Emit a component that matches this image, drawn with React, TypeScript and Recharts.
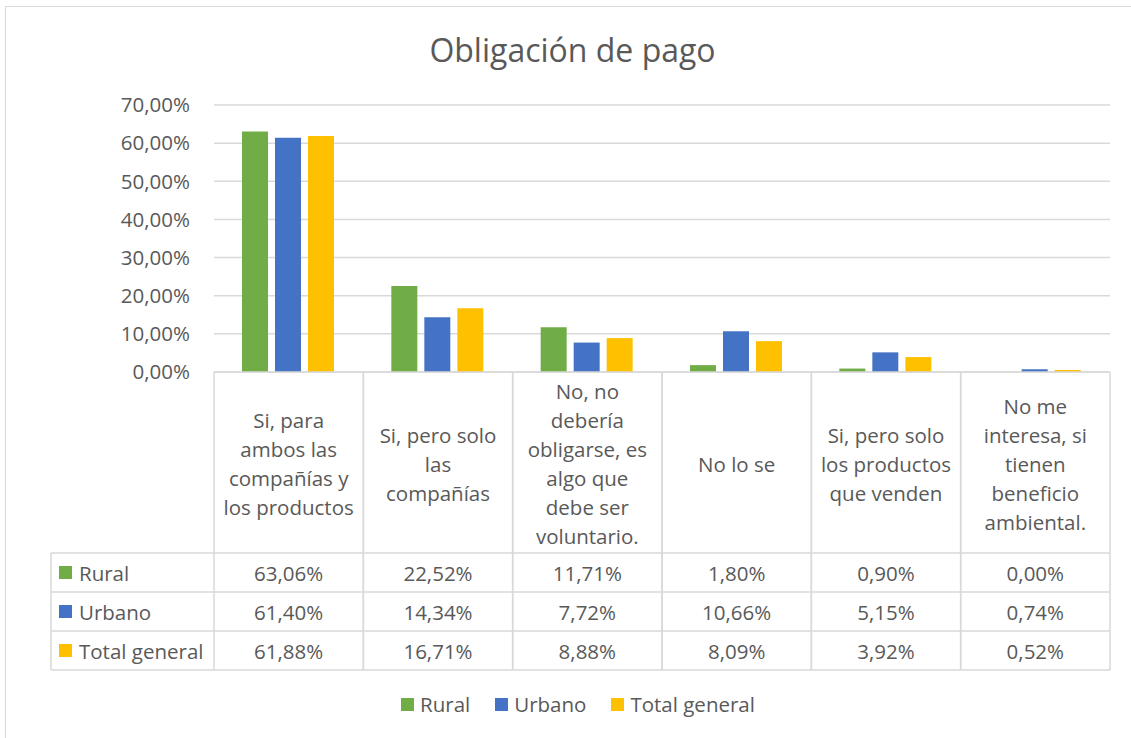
import React from 'react';
import { BarChart, Bar, XAxis, YAxis, CartesianGrid, Legend } from 'recharts';

const categories = [
  'Si, para\nambos las\ncompañías y\nlos productos',
  'Si, pero solo\nlas\ncompañías',
  'No, no\ndebería\nobligarse, es\nalgo que\ndebe ser\nvoluntario.',
  'No lo se',
  'Si, pero solo\nlos productos\nque venden',
  'No me\ninteresa, si\ntienen\nbeneficio\nambiental.',
];
const rural = [63.06, 22.52, 11.71, 1.8, 0.9, 0.0];
const urbano = [61.4, 14.34, 7.72, 10.66, 5.15, 0.74];
const totalGeneral = [61.88, 16.71, 8.88, 8.09, 3.92, 0.52];
const yTicks = [0, 10, 20, 30, 40, 50, 60, 70];
const seriesKeys = ['rural', 'urbano', 'total'];
const seriesNames = ['Rural', 'Urbano', 'Total general'];
const seriesColors = ['#70AD47', '#4472C4', '#FFC000'];
const seriesValues = [rural, urbano, totalGeneral];

const data = categories.map((c, i) => ({
  category: c,
  rural: rural[i],
  urbano: urbano[i],
  total: totalGeneral[i],
}));

const FONT = '"Open Sans", "Noto Sans", sans-serif';
const TEXT = '#595959';
const LINE = '#d9d9d9';
const FS = 20.5;

const W = 1131;
const H = 738;
const HEADER_H = 181;
const ROW_H = 39;
const AXIS_H = HEADER_H + 3 * ROW_H;
const LEGEND_H = 68;
const TABLE_LEFT = 51;
const LINE_H = 29;

const fmt = (v: number) => v.toFixed(2).replace('.', ',') + '%';

const TableTick = (props: any) => {
  const { x, y, payload } = props;
  const idx: number = payload.index;
  const half: number = payload.offset || 896 / 12;
  const left = x - half;
  const right = x + half;
  const lines = String(payload.value).split('\n');
  const labelCenter = y + HEADER_H / 2 + 1;
  const firstY = labelCenter - ((lines.length - 1) * LINE_H) / 2;
  const hy = [HEADER_H, HEADER_H + ROW_H, HEADER_H + 2 * ROW_H, HEADER_H + 3 * ROW_H].map((d) => y + d);
  return (
    <g>
      <line x1={left} y1={y} x2={left} y2={y + AXIS_H} stroke={LINE} strokeWidth={1.5} />
      <line x1={right} y1={y} x2={right} y2={y + AXIS_H} stroke={LINE} strokeWidth={1.5} />
      {hy.map((yy, k) => (
        <line key={k} x1={left} y1={yy} x2={right} y2={yy} stroke={LINE} strokeWidth={1.5} />
      ))}
      {lines.map((ln, k) => (
        <text
          key={k}
          x={x}
          y={firstY + k * LINE_H}
          textAnchor="middle"
          dominantBaseline="central"
          fill={TEXT}
          fontSize={FS}
          fontFamily={FONT}
        >
          {ln}
        </text>
      ))}
      {seriesValues.map((vals, s) => (
        <text
          key={s}
          x={x}
          y={y + HEADER_H + ROW_H * s + ROW_H / 2}
          textAnchor="middle"
          dominantBaseline="central"
          fill={TEXT}
          fontSize={FS}
          fontFamily={FONT}
        >
          {fmt(vals[idx])}
        </text>
      ))}
      {idx === 0 && (
        <g>
          <line x1={TABLE_LEFT} y1={hy[0]} x2={TABLE_LEFT} y2={hy[3]} stroke={LINE} strokeWidth={1.5} />
          {hy.map((yy, k) => (
            <line key={k} x1={TABLE_LEFT} y1={yy} x2={left} y2={yy} stroke={LINE} strokeWidth={1.5} />
          ))}
          {seriesNames.map((n, s) => {
            const cy = y + HEADER_H + ROW_H * s + ROW_H / 2;
            return (
              <g key={n}>
                <rect x={TABLE_LEFT + 8} y={cy - 6.5} width={13} height={13} fill={seriesColors[s]} />
                <text
                  x={TABLE_LEFT + 28}
                  y={cy}
                  dominantBaseline="central"
                  fill={TEXT}
                  fontSize={FS}
                  fontFamily={FONT}
                >
                  {n}
                </text>
              </g>
            );
          })}
        </g>
      )}
    </g>
  );
};

const LegendContent = () => {
  return (
    <div
      style={{
        height: LEGEND_H,
        display: 'flex',
        justifyContent: 'center',
        alignItems: 'center',
        gap: 25,
        paddingLeft: 46,
        boxSizing: 'border-box',
        fontFamily: FONT,
        fontSize: FS,
        color: TEXT,
      }}
    >
      {seriesNames.map((n, s) => (
        <div key={n} style={{ display: 'flex', alignItems: 'center' }}>
          <span style={{ display: 'inline-block', width: 13, height: 13, background: seriesColors[s], marginRight: 6 }} />
          <span>{n}</span>
        </div>
      ))}
    </div>
  );
};

export default function App() {
  return (
    <div style={{ position: 'absolute', left: 0, top: 0, width: W, height: H, overflow: 'hidden', background: '#fff' }}>
      <div
        style={{
          position: 'absolute',
          left: 5,
          top: 6,
          width: W + 20,
          height: H + 20,
          border: `1.5px solid ${LINE}`,
          boxSizing: 'border-box',
        }}
      />
      <div
        style={{
          position: 'absolute',
          left: 0,
          top: 30,
          width: 1145,
          textAlign: 'center',
          fontFamily: FONT,
          fontSize: 32,
          color: TEXT,
          lineHeight: '40px',
        }}
      >
        Obligación de pago
      </div>
      <div style={{ position: 'absolute', left: 0, top: 0 }}>
        <BarChart
          width={W}
          height={H}
          data={data}
          margin={{ top: 105, right: 21, left: 0, bottom: 0 }}
          barCategoryGap={28}
          barGap={7}
        >
          <CartesianGrid vertical={false} stroke={LINE} strokeWidth={1.5} />
          <XAxis
            dataKey="category"
            height={AXIS_H}
            interval={0}
            tickLine={false}
            tickSize={0}
            tickMargin={0}
            axisLine={{ stroke: LINE, strokeWidth: 1.5 }}
            tick={<TableTick />}
          />
          <YAxis
            width={214}
            domain={[0, 70]}
            ticks={yTicks}
            axisLine={false}
            tickLine={false}
            tickSize={0}
            tickMargin={24}
            tickFormatter={(v: number) => fmt(v)}
            tick={{ fill: TEXT, fontSize: FS, fontFamily: FONT }}
          />
          <Legend verticalAlign="bottom" height={LEGEND_H} content={<LegendContent />} />
          {seriesKeys.map((k, s) => (
            <Bar key={k} dataKey={k} name={seriesNames[s]} fill={seriesColors[s]} isAnimationActive={false} />
          ))}
        </BarChart>
      </div>
    </div>
  );
}
